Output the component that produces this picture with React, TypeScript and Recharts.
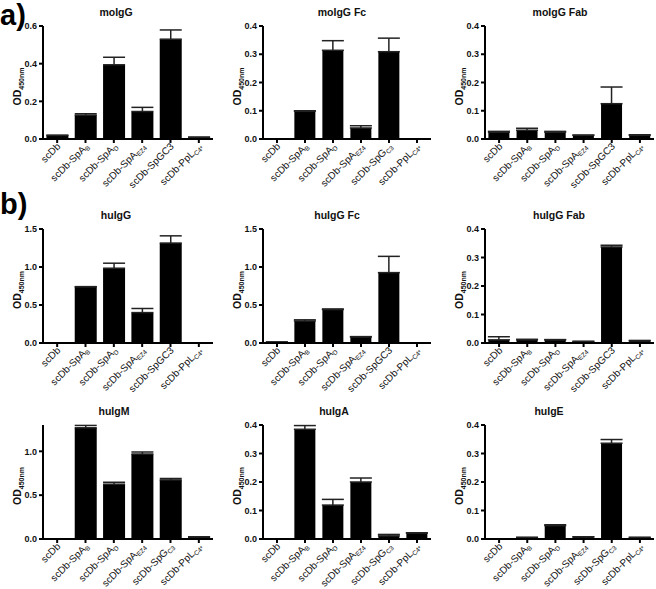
import React from "react";
import { BarChart, Bar, XAxis, YAxis, ErrorBar } from "recharts";

// category labels; "_" marks the start of a subscript
const LABELS_GC3 = ["scDb", "scDb-SpA_B", "scDb-SpA_D", "scDb-SpA_EZ4", "scDb-SpGC3", "scDb-PpL_C4*"];
const LABELS_G_C3 = ["scDb", "scDb-SpA_B", "scDb-SpA_D", "scDb-SpA_EZ4", "scDb-SpG_C3", "scDb-PpL_C4*"];

// mean OD450 and top of error bar
const MOIGG = [0.019, 0.127, 0.394, 0.146, 0.53, 0.009];
const MOIGG_HI = [0.02, 0.134, 0.434, 0.168, 0.579, 0.01];
const MOIGG_FC = [0, 0.098, 0.314, 0.039, 0.309, 0];
const MOIGG_FC_HI = [0, 0.1, 0.348, 0.047, 0.357, 0];
const MOIGG_FAB = [0.024, 0.031, 0.024, 0.013, 0.125, 0.013];
const MOIGG_FAB_HI = [0.027, 0.038, 0.027, 0.014, 0.184, 0.015];

const HUIGG = [0, 0.741, 0.984, 0.4, 1.315, 0];
const HUIGG_HI = [0, 0.741, 1.05, 0.454, 1.41, 0];
const HUIGG_FC = [0.012, 0.29, 0.44, 0.08, 0.926, 0];
const HUIGG_FC_HI = [0.014, 0.305, 0.448, 0.084, 1.14, 0];
const HUIGG_FAB = [0.011, 0.011, 0.011, 0.005, 0.337, 0.007];
const HUIGG_FAB_HI = [0.022, 0.013, 0.012, 0.006, 0.343, 0.009];

const HUIGM = [0, 1.268, 0.625, 0.969, 0.674, 0.023];
const HUIGM_HI = [0, 1.295, 0.647, 0.992, 0.69, 0.026];
const HUIGA = [0, 0.385, 0.119, 0.2, 0.011, 0.021];
const HUIGA_HI = [0, 0.398, 0.139, 0.214, 0.016, 0.022];
const HUIGE = [0, 0.005, 0.047, 0.007, 0.336, 0.005];
const HUIGE_HI = [0, 0.006, 0.05, 0.008, 0.349, 0.006];

const TICKS_04 = [0, 0.1, 0.2, 0.3, 0.4];
const TICKS_06 = [0, 0.2, 0.4, 0.6];
const TICKS_15 = [0, 0.5, 1.0, 1.5];
const TICKS_10 = [0, 0.5, 1.0];

const FONT = "'Liberation Sans', Arial, Helvetica, sans-serif";

const COL_X = [43, 263, 485];
const COL_END = [213, 431, 654];
const ROW_TOP = [26, 229, 425];
const ROW_ZERO = [139, 343, 539];
const ROW_XH = [58, 58, 50];
const YW = 45;
const MT = 6;

const XTick = (props: any) => {
  const { x, y, payload } = props;
  const [base, sub] = String(payload.value).split("_");
  const ax = x + 4;
  const ay = y + 2;
  return (
    <text
      x={ax}
      y={ay}
      transform={`rotate(-45 ${ax} ${ay})`}
      textAnchor="end"
      fontSize={10}
      fill="#111"
      fontFamily={FONT}
    >
      {base}
      {sub && (
        <tspan fontSize={6.5} dy={2}>
          {sub}
        </tspan>
      )}
    </text>
  );
};

const YLab = (props: any) => {
  const vb = props.viewBox;
  const cx = vb.x + vb.width - 22;
  const cy = vb.y + vb.height / 2 + 4;
  return (
    <text
      x={cx}
      y={cy}
      transform={`rotate(-90 ${cx} ${cy})`}
      textAnchor="middle"
      fontSize={10.5}
      fontWeight="bold"
      fill="#111"
      fontFamily={FONT}
    >
      OD
      <tspan fontSize={7} dy={2.5}>
        450nm
      </tspan>
    </text>
  );
};

type PanelProps = {
  title: string;
  titleX: number;
  col: number;
  row: number;
  labels: string[];
  values: number[];
  hi: number[];
  max: number;
  ticks: number[];
};

function Panel({ title, titleX, col, row, labels, values, hi, max, ticks }: PanelProps) {
  const data = labels.map((label, i) => ({
    label,
    v: values[i],
    err: [0, Math.max(0, hi[i] - values[i])],
  }));
  const axisX = COL_X[col];
  const top = ROW_TOP[row];
  const zero = ROW_ZERO[row];
  const xh = ROW_XH[row];
  const width = YW + (COL_END[col] - axisX) + 2;
  const height = MT + (zero - top) + xh;
  return (
    <>
      <div
        style={{
          position: "absolute",
          left: titleX - 60,
          width: 120,
          top: top - 20,
          textAlign: "center",
          fontFamily: FONT,
          fontWeight: "bold",
          fontSize: 10.5,
          color: "#111",
          lineHeight: "12px",
        }}
      >
        {title}
      </div>
      <div style={{ position: "absolute", left: axisX - YW, top: top - MT }}>
        <BarChart
          width={width}
          height={height}
          data={data}
          margin={{ top: MT, right: 2, left: 0, bottom: 0 }}
          barCategoryGap="12%"
        >
          <XAxis
            dataKey="label"
            height={xh}
            interval={0}
            tick={<XTick />}
            tickSize={4}
            tickMargin={2}
            axisLine={{ stroke: "#000", strokeWidth: 2 }}
            tickLine={{ stroke: "#000", strokeWidth: 2 }}
          />
          <YAxis
            width={YW}
            domain={[0, max]}
            ticks={ticks}
            interval={0}
            tickFormatter={(v: number) => v.toFixed(1)}
            tick={{ fontSize: 9, fontWeight: "bold", fill: "#111", fontFamily: FONT }}
            tickSize={4}
            tickMargin={2}
            axisLine={{ stroke: "#000", strokeWidth: 2 }}
            tickLine={{ stroke: "#000", strokeWidth: 2 }}
            label={{ content: (p: any) => <YLab viewBox={p.viewBox} /> }}
          />
          <Bar dataKey="v" fill="#000" isAnimationActive={false}>
            <ErrorBar dataKey="err" width={11} stroke="#222" strokeWidth={1.5} />
          </Bar>
        </BarChart>
      </div>
    </>
  );
}

export default function App() {
  return (
    <div
      style={{
        position: "absolute",
        left: 0,
        top: 0,
        width: 656,
        height: 589,
        background: "#fff",
        overflow: "hidden",
      }}
    >
      <div style={{ position: "absolute", left: 0, top: 0, fontFamily: FONT, fontWeight: "bold", fontSize: 29, lineHeight: "30px" }}>
        a)
      </div>
      <div style={{ position: "absolute", left: 0, top: 189, fontFamily: FONT, fontWeight: "bold", fontSize: 29, lineHeight: "30px" }}>
        b)
      </div>

      <Panel title="moIgG" titleX={116} col={0} row={0} labels={LABELS_GC3} values={MOIGG} hi={MOIGG_HI} max={0.6} ticks={TICKS_06} />
      <Panel title="moIgG Fc" titleX={342} col={1} row={0} labels={LABELS_G_C3} values={MOIGG_FC} hi={MOIGG_FC_HI} max={0.4} ticks={TICKS_04} />
      <Panel title="moIgG Fab" titleX={560} col={2} row={0} labels={LABELS_GC3} values={MOIGG_FAB} hi={MOIGG_FAB_HI} max={0.4} ticks={TICKS_04} />

      <Panel title="huIgG" titleX={116} col={0} row={1} labels={LABELS_GC3} values={HUIGG} hi={HUIGG_HI} max={1.5} ticks={TICKS_15} />
      <Panel title="huIgG Fc" titleX={337} col={1} row={1} labels={LABELS_GC3} values={HUIGG_FC} hi={HUIGG_FC_HI} max={1.5} ticks={TICKS_15} />
      <Panel title="huIgG Fab" titleX={559} col={2} row={1} labels={LABELS_GC3} values={HUIGG_FAB} hi={HUIGG_FAB_HI} max={0.4} ticks={TICKS_04} />

      <Panel title="huIgM" titleX={114} col={0} row={2} labels={LABELS_G_C3} values={HUIGM} hi={HUIGM_HI} max={1.3} ticks={TICKS_10} />
      <Panel title="huIgA" titleX={334} col={1} row={2} labels={LABELS_G_C3} values={HUIGA} hi={HUIGA_HI} max={0.4} ticks={TICKS_04} />
      <Panel title="huIgE" titleX={549} col={2} row={2} labels={LABELS_G_C3} values={HUIGE} hi={HUIGE_HI} max={0.4} ticks={TICKS_04} />
    </div>
  );
}
